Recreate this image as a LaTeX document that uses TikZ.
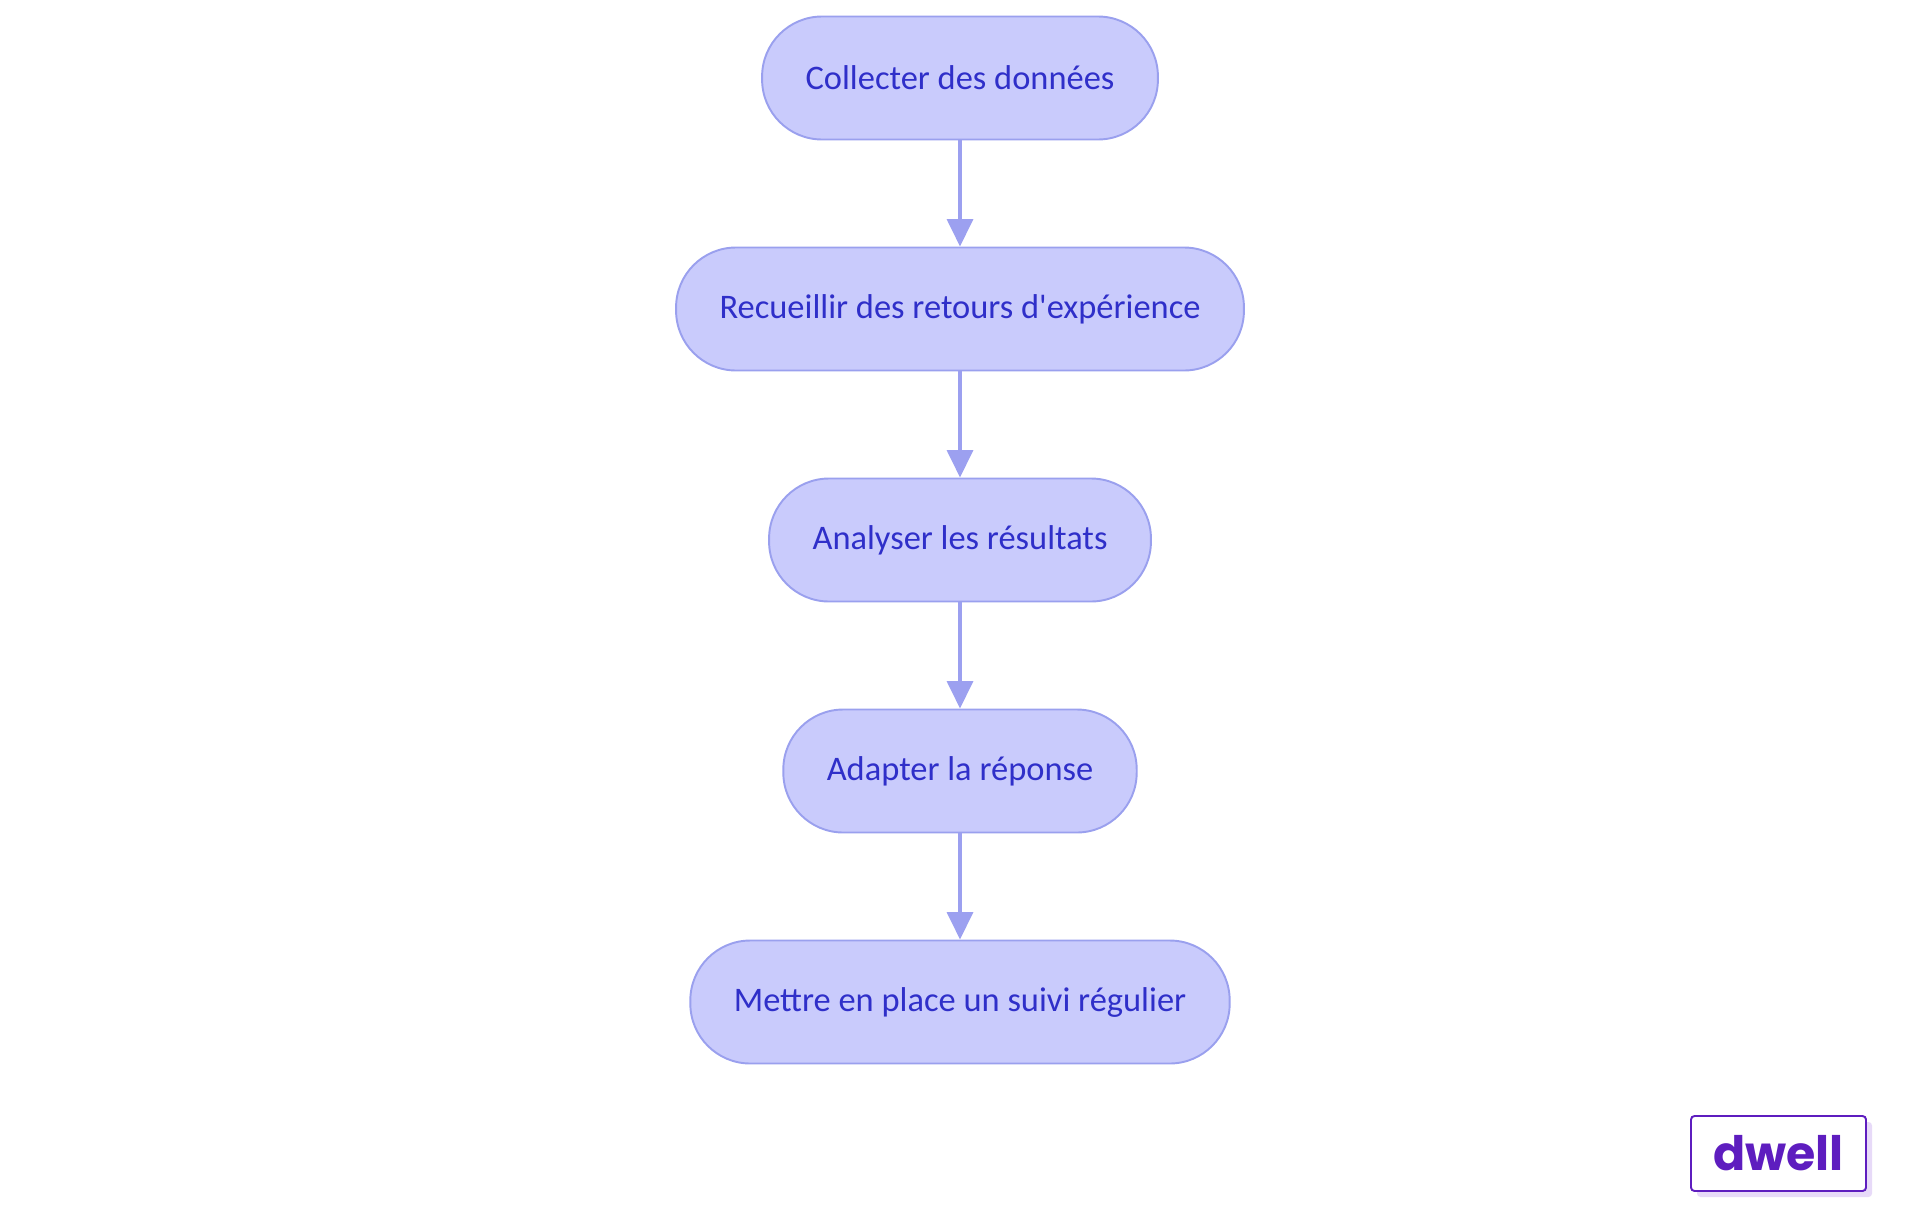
\documentclass[tikz,border=0pt]{standalone}
\usepackage{fontspec}
\setmainfont{Carlito}
\newfontfamily\logofont{Poppins}
\usepackage{tikz}
\usetikzlibrary{arrows.meta,positioning,shapes,shadows}
\definecolor{stagefill}{HTML}{C9CBFC}
\definecolor{stagedraw}{HTML}{9AA0EE}
\definecolor{stagetext}{HTML}{2F2FC9}
\definecolor{flowline}{HTML}{9CA0F0}
\definecolor{logoviolet}{HTML}{5E1DBF}
\definecolor{logoshadow}{HTML}{E7DAF8}
\tikzset{
  stage/.style={rectangle, rounded corners=1.2cm, draw=stagedraw, line width=1.1pt,
    fill=stagefill, text=stagetext, minimum height=2.46cm, inner xsep=0.87cm,
    font=\fontsize{19.6}{23}\selectfont},
  flow/.style={-{Triangle[length=0.55cm,width=0.52cm]}, color=flowline, line width=2pt},
  brand/.style={rectangle, rounded corners=2pt, draw=logoviolet, line width=1.1pt,
    fill=white, text=logoviolet, minimum width=3.5cm, minimum height=1.5cm,
    font=\logofont\bfseries\fontsize{27}{30}\selectfont,
    drop shadow={shadow xshift=0.12cm, shadow yshift=-0.12cm, fill=logoshadow, opacity=1}}
}
\begin{document}
\begin{tikzpicture}[node distance=4.62cm,on grid,auto]
   \useasboundingbox (0,0) rectangle (38.4,-24.3);
   \node[stage] (collect) at (19.2,-1.56) {Collecter des données};
   \node[stage] (feedback) [below= of collect] {Recueillir des retours d\textquotesingle expérience};
   \node[stage] (analyse) [below= of feedback] {Analyser les résultats};
   \node[stage] (adapt) [below= of analyse] {Adapter la réponse};
   \node[stage] (followup) [below= of adapt] {Mettre en place un suivi régulier};

   \path
    (collect) edge[flow] (feedback)
    (feedback) edge[flow] (analyse)
    (analyse) edge[flow] (adapt)
    (adapt) edge[flow] (followup);

   \node[brand] (logo) at (35.57,-23.07) {dwell};
\end{tikzpicture}
\end{document}
